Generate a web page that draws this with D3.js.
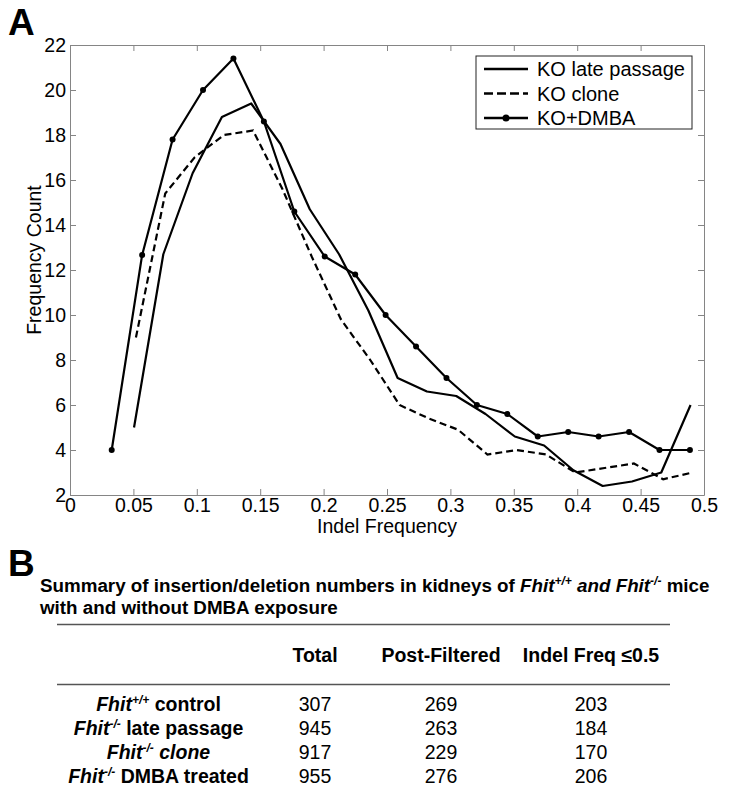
<!DOCTYPE html>
<html><head><meta charset="utf-8">
<script src="https://cdn.jsdelivr.net/npm/d3@7"></script>
<style>
body{margin:0;background:#fff}
svg{display:block}
text{font-family:"Liberation Sans",Arial,Helvetica,sans-serif}
.narrow{font-family:"Liberation Sans Narrow","Arial Narrow","Liberation Sans",Arial,sans-serif}
</style>
</head><body><svg id="c" width="734" height="793"></svg>
<script>
// ---- Panel A data ----
const xTicks = [0,0.05,0.1,0.15,0.2,0.25,0.3,0.35,0.4,0.45,0.5];
const yTicks = [2,4,6,8,10,12,14,16,18,20,22];
const seriesNames = ["KO late passage","KO clone","KO+DMBA"];
const lateX = [0.0505,0.0736,0.0967,0.1198,0.1429,0.166,0.1891,0.2122,0.2353,0.2584,0.2815,0.3046,0.3277,0.3508,0.3739,0.397,0.4201,0.4432,0.4663,0.4894];
const lateY = [5,12.7,16.3,18.8,19.4,17.6,14.7,12.7,10.2,7.2,6.6,6.4,5.6,4.6,4.2,3.1,2.4,2.6,3.0,6.0];
const cloneX = [0.052,0.0751,0.0982,0.1213,0.1444,0.1675,0.1906,0.2137,0.2368,0.2599,0.283,0.3061,0.3292,0.3523,0.3754,0.3985,0.4216,0.4447,0.4678,0.4909];
const cloneY = [9.0,15.4,17.0,18.0,18.2,15.6,12.6,9.8,8.0,6.0,5.4,4.9,3.8,4.0,3.8,3.0,3.2,3.4,2.7,3.0];
const dmbaX = [0.0329,0.0569,0.0809,0.1049,0.1289,0.1529,0.1769,0.2009,0.2249,0.2489,0.2729,0.2969,0.3209,0.3449,0.3689,0.3929,0.4169,0.4409,0.4649,0.4889];
const dmbaY = [4,12.67,17.8,20,21.4,18.6,14.6,12.6,11.8,10,8.6,7.2,6.0,5.6,4.6,4.8,4.6,4.8,4.0,4.0];

// ---- Panel B data ----
const tableTitle1 = ["Summary of insertion/deletion numbers in kidneys of ", "Fhit", "+/+", " and ", "Fhit", "-/-", " mice"];
const tableTitle2 = "with and without DMBA exposure";
const tableCols = ["Total","Post-Filtered","Indel Freq \u22640.5"];
const rowGenotype = ["+/+","-/-","-/-","-/-"];
const rowLabels = ["control","late passage","clone","DMBA treated"];
const rowLabelItalic = [false,false,true,false];
const totals = [307,945,917,955];
const postFiltered = [269,263,229,276];
const indelFreq = [203,184,170,206];

const svg = d3.select("#c");
const m = {l:70, r:704, t:45, b:495};
const x = d3.scaleLinear().domain([0,0.5]).range([m.l,m.r]);
const y = d3.scaleLinear().domain([2,22]).range([m.b,m.t]);
const axisCol = "#858585";
const fs = 19.5;

// panel letters
svg.append("text").attr("x",8).attr("y",35).attr("font-size",37).attr("font-weight","bold").text("A");
svg.append("text").attr("x",8).attr("y",576).attr("font-size",37).attr("font-weight","bold").text("B");

// axes
function styleAxis(g){
  g.select(".domain").attr("stroke",axisCol);
  g.selectAll(".tick line").attr("stroke",axisCol);
  g.selectAll("text").attr("fill","#000").attr("font-size",fs).attr("font-family",'"Liberation Sans",Arial,sans-serif');
}
const fmtX = d => d===0 ? "0" : String(d);
svg.append("g").attr("transform",`translate(0,${m.b})`)
  .call(d3.axisBottom(x).tickValues(xTicks).tickFormat(fmtX).tickSizeInner(-6).tickSizeOuter(0).tickPadding(3))
  .call(styleAxis);
svg.append("g").attr("transform",`translate(0,${m.t})`)
  .call(d3.axisTop(x).tickValues(xTicks).tickFormat("").tickSizeInner(-6).tickSizeOuter(0))
  .call(styleAxis);
svg.append("g").attr("transform",`translate(${m.l},0)`)
  .call(d3.axisLeft(y).tickValues(yTicks).tickSizeInner(-6).tickSizeOuter(0).tickPadding(4))
  .call(styleAxis);
svg.append("g").attr("transform",`translate(${m.r},0)`)
  .call(d3.axisRight(y).tickValues(yTicks).tickFormat("").tickSizeInner(-6).tickSizeOuter(0))
  .call(styleAxis);

svg.append("text").attr("x",(m.l+m.r)/2).attr("y",533).attr("text-anchor","middle").attr("font-size",fs).text("Indel Frequency");
svg.append("text").attr("transform","translate(41,260) rotate(-90)").attr("text-anchor","middle").attr("font-size",fs).text("Frequency Count");

// lines
const line = d3.line().x(d=>x(d[0])).y(d=>y(d[1]));
const lateData = lateX.map((v,i)=>[v,lateY[i]]);
const cloneData = cloneX.map((v,i)=>[v,cloneY[i]]);
const dmbaData = dmbaX.map((v,i)=>[v,dmbaY[i]]);
const plot = svg.append("g");
plot.append("path").datum(lateData).attr("d",line).attr("fill","none").attr("stroke","#000").attr("stroke-width",2.2).attr("stroke-linejoin","round");
plot.append("path").datum(cloneData).attr("d",line).attr("fill","none").attr("stroke","#000").attr("stroke-width",2.2).attr("stroke-dasharray","7,4");
plot.append("path").datum(dmbaData).attr("d",line).attr("fill","none").attr("stroke","#000").attr("stroke-width",2.2).attr("stroke-linejoin","round");
plot.selectAll("circle.d").data(dmbaData).join("circle").attr("class","d")
  .attr("cx",d=>x(d[0])).attr("cy",d=>y(d[1])).attr("r",3).attr("fill","#000");

// legend
const lg = svg.append("g");
lg.append("rect").attr("x",476).attr("y",56).attr("width",216).attr("height",73).attr("fill","#fff").attr("stroke","#222").attr("stroke-width",1);
const ly = [69,93.5,118];
seriesNames.forEach((n,i)=>{
  const l = lg.append("line").attr("x1",484).attr("x2",528).attr("y1",ly[i]).attr("y2",ly[i]).attr("stroke","#000").attr("stroke-width",2.5);
  if(i===1) l.attr("stroke-dasharray","9,4");
  if(i===2) lg.append("circle").attr("cx",506).attr("cy",ly[i]).attr("r",3.5).attr("fill","#000");
  lg.append("text").attr("x",537).attr("y",ly[i]+7).attr("font-size",20).text(n);
});

// ---- Panel B table ----
const tfs = 18.8, cfs = 19.5;
const t1 = svg.append("text").attr("class","narrow").attr("x",40).attr("y",592).attr("font-size",tfs).attr("font-weight","bold");
tableTitle1.forEach((s,i)=>{
  const ts = t1.append("tspan").text(s);
  if(i>=1 && i<=5) ts.attr("font-style","italic");
  if(i===2||i===5) ts.attr("font-size",12).attr("dy",-7);
  if(i===3||i===6) ts.attr("dy",7);
});
svg.append("text").attr("class","narrow").attr("x",40).attr("y",614).attr("font-size",tfs).attr("font-weight","bold").text(tableTitle2);

svg.append("line").attr("x1",57).attr("x2",670).attr("y1",624.5).attr("y2",624.5).attr("stroke","#555").attr("stroke-width",1.5);
svg.append("line").attr("x1",57).attr("x2",670).attr("y1",684.5).attr("y2",684.5).attr("stroke","#555").attr("stroke-width",1.5);

const colX = [315,441,591];
tableCols.forEach((c,i)=>{
  svg.append("text").attr("class","narrow").attr("x",colX[i]).attr("y",662).attr("text-anchor","middle").attr("font-size",cfs).attr("font-weight","bold").text(c);
});
const rowY = [711,735,759,783];
rowLabels.forEach((lab,i)=>{
  const t = svg.append("text").attr("class","narrow").attr("x",158.5).attr("y",rowY[i]).attr("text-anchor","middle").attr("font-size",cfs).attr("font-weight","bold");
  t.append("tspan").attr("font-style","italic").text("Fhit");
  t.append("tspan").attr("font-style","italic").attr("font-size",12).attr("dy",-7).text(rowGenotype[i]);
  const ts = t.append("tspan").attr("dy",7).text(" "+lab);
  if(rowLabelItalic[i]) ts.attr("font-style","italic");
  [totals,postFiltered,indelFreq].forEach((arr,j)=>{
    svg.append("text").attr("class","narrow").attr("x",colX[j]).attr("y",rowY[i]).attr("text-anchor","middle").attr("font-size",cfs).text(arr[i]);
  });
});
</script></body></html>
